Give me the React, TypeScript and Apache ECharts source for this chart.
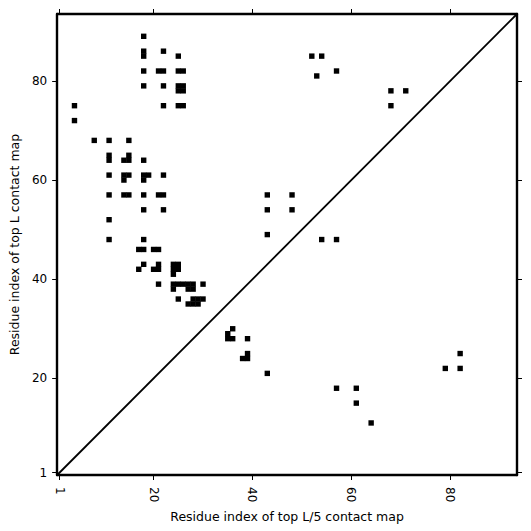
import React, { useEffect, useRef } from "react";
import * as echarts from "echarts";

// Contacts drawn above the diagonal (top L contact map): [x, y]
const topLContacts: number[][] = [
  [18, 89], [18, 86], [18, 85], [22, 86], [25, 85], [52, 85], [54, 85],
  [18, 82], [21, 82], [22, 82], [25, 82], [26, 82], [57, 82], [53, 81],
  [18, 79], [22, 79], [25, 79], [26, 79], [25, 78], [26, 78], [68, 78], [71, 78],
  [4, 75], [22, 75], [25, 75], [26, 75], [68, 75], [4, 72],
  [8, 68], [11, 68], [15, 68], [11, 65], [15, 65], [11, 64], [14, 64], [15, 64], [18, 64],
  [11, 61], [14, 61], [15, 61], [18, 61], [19, 61], [22, 61], [14, 60], [18, 60],
  [11, 57], [14, 57], [15, 57], [18, 57], [21, 57], [22, 57], [43, 57], [48, 57],
  [18, 54], [22, 54], [43, 54], [48, 54], [11, 52],
  [43, 49], [11, 48], [18, 48], [54, 48], [57, 48],
  [17, 46], [18, 46], [20, 46], [21, 46],
  [18, 43], [21, 43], [24, 43], [25, 43],
  [17, 42], [20, 42], [21, 42], [24, 42], [25, 42], [24, 41],
  [21, 39], [24, 39], [25, 39], [26, 39], [27, 39], [28, 39], [30, 39],
  [24, 38], [27, 38], [28, 38],
  [25, 36], [28, 36], [29, 36], [30, 36], [27, 35], [28, 35], [29, 35],
];

// Contacts drawn below the diagonal (top L/5 contact map): [x, y]
const topL5Contacts: number[][] = [
  [36, 30], [35, 29], [35, 28], [36, 28], [39, 28],
  [39, 25], [39, 24], [38, 24], [43, 21],
  [57, 18], [61, 18], [61, 15], [64, 11],
  [82, 25], [79, 22], [82, 22],
];

const tickValues = [1, 20, 40, 60, 80];
const axisMin = 0.5;
const axisMax = 93.5;
const diagonal: number[][] = [[axisMin, axisMin], [axisMax, axisMax]];

export default function App() {
  const ref = useRef<HTMLDivElement>(null);
  useEffect(() => {
    if (!ref.current) return;
    const chart = echarts.init(ref.current, null, { renderer: "svg" });
    const font = "DejaVu Sans";
    const lineStyle = { color: "#000", width: 2.4 };
    const tickStyle = { show: true, inside: false, length: 5, lineStyle: { color: "#000", width: 1 }, customValues: tickValues };
    const baseAxis = {
      type: "value" as const,
      min: axisMin,
      max: axisMax,
      splitLine: { show: false },
      axisLine: { show: true, onZero: false, lineStyle },
    };
    chart.setOption({
      animation: false,
      backgroundColor: "#fff",
      grid: { left: 55, right: 14, top: 14, bottom: 56, containLabel: false },
      xAxis: [
        {
          ...baseAxis,
          position: "bottom",
          axisTick: tickStyle,
          axisLabel: { customValues: tickValues, rotate: -90, margin: 12, color: "#000", fontSize: 12, fontFamily: font },
          name: "Residue index of top L/5 contact map",
          nameLocation: "middle",
          nameGap: 24,
          nameTextStyle: { color: "#000", fontSize: 12.5, fontFamily: font },
        },
        {
          ...baseAxis,
          position: "top",
          axisTick: tickStyle,
          axisLabel: { show: false },
        },
      ],
      yAxis: [
        {
          ...baseAxis,
          position: "left",
          axisTick: tickStyle,
          axisLabel: { customValues: tickValues, margin: 10, color: "#000", fontSize: 12, fontFamily: font },
          name: "Residue index of top L contact map",
          nameLocation: "middle",
          nameGap: 25,
          nameRotate: 90,
          nameTextStyle: { color: "#000", fontSize: 12.5, fontFamily: font },
        },
        {
          ...baseAxis,
          position: "right",
          axisTick: tickStyle,
          axisLabel: { show: false },
        },
      ],
      series: [
        {
          type: "line",
          data: diagonal,
          symbol: "none",
          lineStyle: { color: "#000", width: 1.8 },
          silent: true,
        },
        {
          type: "scatter",
          data: topLContacts,
          symbol: "rect",
          symbolSize: 5.4,
          itemStyle: { color: "#000", opacity: 1 },
        },
        {
          type: "scatter",
          data: topL5Contacts,
          symbol: "rect",
          symbolSize: 5.4,
          itemStyle: { color: "#000", opacity: 1 },
        },
      ],
    });
    return () => chart.dispose();
  }, []);
  return <div ref={ref} style={{ width: 531, height: 531, position: "absolute", left: 0, top: 0 }} />;
}
